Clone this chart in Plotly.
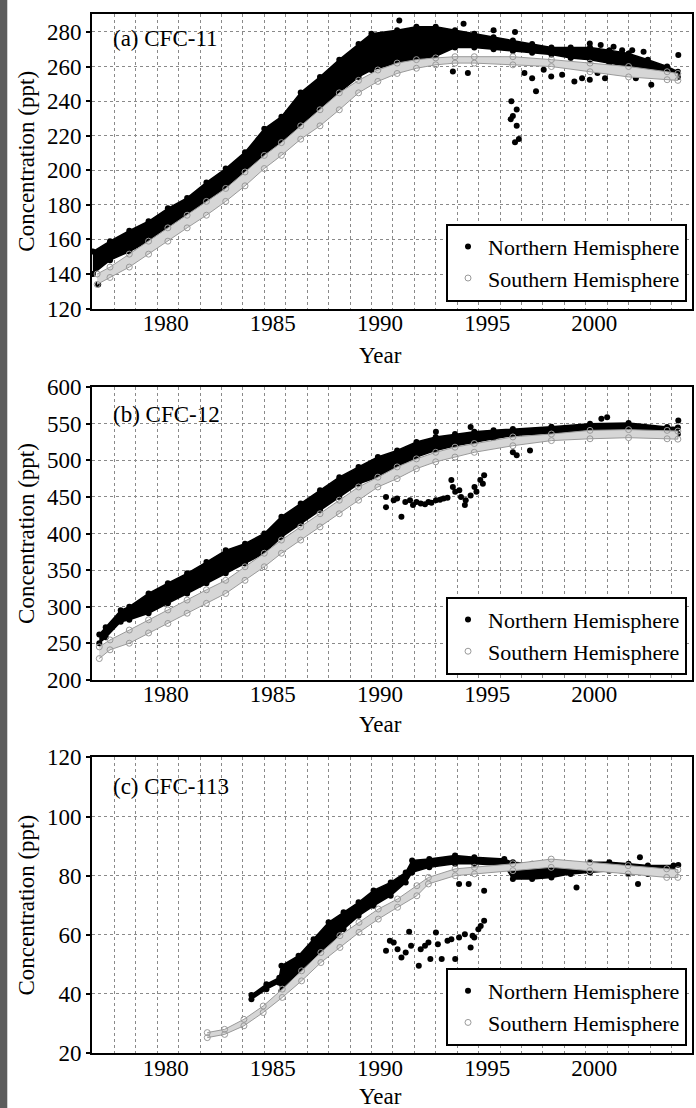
import plotly.graph_objects as go

FONT = "Liberation Serif"

# ---------------- Panel (a) CFC-11 ----------------
a_nh_year = [1976.6, 1977.4, 1978.3, 1979.2, 1980.1, 1981.0, 1981.9, 1982.8, 1983.7, 1984.6,
             1985.4, 1986.3, 1987.2, 1988.1, 1989.0, 1989.6, 1990.8, 1991.7, 1992.6, 1993.5,
             1994.4, 1995.3, 1996.2, 1997.1, 1998.0, 1998.9, 1999.8, 2000.7, 2001.6, 2002.5,
             2003.4, 2003.9]
a_nh_hi = [153, 159, 165, 170.5, 178, 184, 193, 201, 210.5, 224, 231, 245, 254, 264, 273, 279,
           281, 283, 283, 281, 279, 277, 275, 273, 271, 271, 271, 269.5, 267.6, 264, 260, 257]
a_nh_lo = [140, 148, 153, 159, 166, 172, 180, 186, 195, 207, 216, 226, 235, 245, 254, 258,
           262, 264, 266, 271, 271, 270, 269, 268, 267, 265, 264, 262, 260, 258, 255, 254]
a_sh_year = [1976.8, 1977.4, 1978.3, 1979.2, 1980.1, 1981.0, 1981.9, 1982.8, 1983.7, 1984.6,
             1985.4, 1986.3, 1987.2, 1988.1, 1989.0, 1989.9, 1990.8, 1991.7, 1992.6, 1993.5,
             1994.4, 1996.2, 1998.0, 1999.8, 2001.6, 2003.4, 2003.9]
a_sh_hi = [140, 144, 151.5, 159, 166.7, 174, 182, 189.5, 199, 208.6, 216, 225.7, 235, 244.8,
           252, 258, 262, 264, 265, 265.7, 265.7, 265.7, 264, 262, 260, 257, 256]
a_sh_lo = [134, 138, 144, 151.5, 159, 166.7, 174, 182, 191, 201, 208.6, 218, 225.7, 235,
           244.8, 251.4, 256, 259, 261, 262, 262, 261, 260, 257, 254, 252.4, 252]
a_out_year = [1976.85, 1990.9, 1993.9, 1995.3, 1996.3, 1993.4, 1994.1,
              1996.13, 1996.2, 1996.38, 1996.1, 1996.38, 1996.3, 1996.48,
              1996.74, 1997.1, 1997.28, 1997.64, 1997.99, 1999.07, 1999.43, 1999.79, 2000.5,
              2001.94, 2002.66, 1998.5, 2000.15,
              1999.79, 2000.3, 2000.9, 2001.3, 2001.77, 2002.3, 2003.92]
a_out_val = [134, 286.7, 284.8, 281, 280, 257.1, 256.2,
             240, 231.4, 235.2, 229.5, 225.7, 216.2, 218.1,
             256.2, 253.3, 245.7, 258.1, 254.3, 251.4, 253.3, 252.4, 253.3,
             253.3, 249.5, 255.2, 256.2,
             273.3, 272.4, 271.4, 269.5, 269.5, 268.6, 266.7]

# ---------------- Panel (b) CFC-12 ----------------
b_nh_year = [1976.9, 1977.2, 1977.9, 1978.3, 1979.2, 1980.1, 1981.0, 1981.9, 1982.8, 1983.7,
             1984.6, 1985.4, 1986.3, 1987.2, 1988.1, 1989.0, 1989.9, 1990.8, 1991.7, 1992.6,
             1993.5, 1994.4, 1995.3, 1996.2, 1998.0, 1999.8, 2001.6, 2003.4, 2003.9]
b_nh_hi = [262, 272, 295, 300, 318, 332, 345.5, 361, 377, 386, 400, 423, 441, 459, 477, 491,
           504.5, 513.6, 525, 532, 536, 539, 541, 543, 546, 550, 551, 545.5, 545]
b_nh_lo = [250, 258, 279.5, 282, 291, 304.5, 318, 332, 345.5, 359, 373, 395, 414, 432, 450,
           468, 477, 491, 504.5, 513.6, 520, 525, 529.5, 534, 537, 541, 543, 536, 536]
b_sh_year = [1976.9, 1977.4, 1978.3, 1979.2, 1980.1, 1981.0, 1981.9, 1982.8, 1983.7, 1984.6,
             1985.4, 1986.3, 1987.2, 1988.1, 1989.0, 1989.9, 1990.8, 1991.7, 1992.6, 1993.5,
             1994.4, 1996.2, 1998.0, 1999.8, 2001.6, 2003.4, 2003.9]
b_sh_hi = [245, 254.5, 268, 282, 295.5, 309, 323, 336, 354.5, 373, 391, 409, 427, 445.5,
           463.6, 477, 491, 502, 511, 518, 523, 532, 536, 541, 542, 541, 540]
b_sh_lo = [229, 241, 250, 264, 277, 291, 304.5, 318, 336, 354.5, 373, 391, 409, 427, 445.5,
           463.6, 475, 488.6, 498, 504.5, 511, 520, 527, 529.5, 531, 529.5, 529]
b_out_year = [1990.28, 1990.28, 1990.64, 1991.0, 1991.18, 1991.54, 1991.9, 1992.26, 1992.61,
              1992.97, 1993.33, 1993.51, 1993.78, 1993.96, 1994.23, 1994.41, 1994.68, 1994.86,
              1990.8, 1991.4, 1991.7, 1992.1, 1992.4, 1992.8, 1993.15, 1993.4, 1993.7, 1994.0,
              1994.5, 1994.8,
              1996.2, 1996.38, 1997.0, 1992.61, 1994.23, 2000.33, 2000.6, 2003.92]
b_out_val = [450, 436, 445.5, 423, 443, 439, 441, 443, 445.5,
             448, 473, 457, 450, 439, 452, 463.6, 473, 479.5,
             448, 445.5, 443, 440, 442, 446, 449, 463.6, 459, 445.5,
             457, 468,
             511, 507, 513.6, 539, 545.5, 557, 559, 554.5]

# ---------------- Panel (c) CFC-113 ----------------
c_nh_year = [1984.0, 1984.7, 1985.3, 1985.4, 1986.2, 1986.9, 1987.6, 1988.3, 1989.0, 1989.7,
             1990.5, 1991.2, 1991.5, 1992.3, 1993.5, 1994.4, 1995.8, 1996.2, 1997.1, 1998.0,
             1998.9, 1999.8, 2000.7, 2001.6, 2002.5, 2003.7]
c_nh_hi = [39.6, 43.3, 45.5, 49.5, 52.9, 58.5, 64.2, 67.6, 71, 75, 77.7, 81.1, 85.1, 85.6,
           86.8, 86.2, 85.6, 84.5, 84, 84, 84, 84.5, 84.5, 84, 83.4, 83.4]
c_nh_lo = [38.2, 41.6, 43.8, 41.0, 46.1, 50.6, 56.3, 61.9, 66.4, 69.8, 73.2, 77.7, 81.1, 82.8,
           84, 84, 83.4, 78.9, 78.9, 79.4, 80.6, 81.1, 81.7, 80.6, 80.6, 81.7]
c_sh_year = [1981.94, 1982.75, 1983.65, 1984.55, 1985.44, 1986.34, 1987.24, 1988.13, 1989.02,
             1989.92, 1990.82, 1991.72, 1992.26, 1993.51, 1994.41, 1996.2, 1997.99, 1999.79,
             2001.58, 2003.38, 2003.9]
c_sh_hi = [26.9, 28, 31.4, 35.9, 41.6, 47.8, 54, 59.7, 64.2, 68.7, 72.1, 76.6, 79.4, 82.3,
           82.8, 84, 85.6, 84.5, 83.4, 82.3, 82]
c_sh_lo = [25.2, 26.3, 29.2, 33.7, 38.8, 44.4, 50.6, 55.7, 60.8, 65.3, 69.3, 73.2, 77.2, 80,
           80.6, 81.7, 82.8, 81.7, 80.6, 79.4, 79.4]
c_out_year = [1990.28, 1990.64, 1990.82, 1991.0, 1991.36, 1991.45, 1991.81, 1991.9, 1992.26,
              1992.35, 1992.61, 1992.7, 1992.88, 1993.33, 1993.51, 1993.69, 1993.96, 1994.23,
              1994.32, 1994.59, 1994.86, 1990.46, 1991.2, 1992.1, 1993.15, 1994.4, 1994.7,
              1993.69, 1994.14, 1994.86, 1999.17, 2002.04, 2002.13, 2003.92]
c_out_val = [54.6, 57.4, 55.1, 52.3, 61, 56.3, 49.5, 55.1, 57.4,
             51.8, 60.8, 56.8, 51.8, 58.5, 51.8, 59.1, 60.2, 55.7,
             59.7, 61.9, 64.7, 58, 54, 56.3, 58, 59.1, 63,
             77.2, 77.2, 74.9, 76, 77.2, 86.2, 83.6]

panel_labels = ["(a) CFC-11", "(b) CFC-12", "(c) CFC-113"]
series_names = ["Northern Hemisphere", "Southern Hemisphere"]
x_tick_vals = [1980, 1985, 1990, 1995, 2000]
y_ranges = [[120, 290.4], [200, 600], [20, 120]]
y_dticks = [20, 50, 20]

panels = [
    (a_nh_year, a_nh_hi, a_nh_lo, a_sh_year, a_sh_hi, a_sh_lo, a_out_year, a_out_val),
    (b_nh_year, b_nh_hi, b_nh_lo, b_sh_year, b_sh_hi, b_sh_lo, b_out_year, b_out_val),
    (c_nh_year, c_nh_hi, c_nh_lo, c_sh_year, c_sh_hi, c_sh_lo, c_out_year, c_out_val),
]

W, H = 696, 1108
ML, MR, MT, MB = 92, 2, 9, 55
PH = H - MT - MB
PW = W - ML - MR


def py(px):
    return (H - MB - px) / PH


domains = [[py(305), py(9)], [py(678), py(384)], [py(1053), py(756)]]
legend_bottoms = [py(298), py(673), py(1046)]
year_label_y = [352, 723, 1097]
label_y = [34, 411, 785]

fig = go.Figure()
layout = dict(
    width=W, height=H,
    margin=dict(l=ML, r=MR, t=MT, b=MB),
    paper_bgcolor="white", plot_bgcolor="white",
    font=dict(family=FONT, size=23, color="black"),
    showlegend=True,
    annotations=[], shapes=[],
)

NH_COLOR = "black"
SH_FILL = "#d6d6d6"
SH_EDGE = "#9a9a9a"

for i, (nx, nhi, nlo, sx, shi, slo, ox, ov) in enumerate(panels):
    k = "" if i == 0 else str(i + 1)
    xa, ya = "x" + k, "y" + k
    lg = "legend" + k
    # NH band (dense cloud of black points)
    fig.add_trace(go.Scatter(
        x=list(nx) + list(nx)[::-1], y=list(nhi) + list(nlo)[::-1],
        fill="toself", fillcolor=NH_COLOR, mode="lines",
        line=dict(color=NH_COLOR, width=1.5), xaxis=xa, yaxis=ya,
        showlegend=False, hoverinfo="skip"))
    fig.add_trace(go.Scatter(
        x=list(nx) + list(nx), y=list(nhi) + list(nlo), mode="markers",
        marker=dict(symbol="circle", size=6, color=NH_COLOR),
        xaxis=xa, yaxis=ya, showlegend=False))
    # NH scattered points (carry the legend entry)
    fig.add_trace(go.Scatter(
        x=ox, y=ov, mode="markers", name=series_names[0],
        marker=dict(symbol="circle", size=6, color=NH_COLOR),
        xaxis=xa, yaxis=ya, legend=lg, showlegend=True))
    # SH band (open grey circles)
    fig.add_trace(go.Scatter(
        x=list(sx) + list(sx)[::-1], y=list(shi) + list(slo)[::-1],
        fill="toself", fillcolor=SH_FILL, mode="lines",
        line=dict(color=SH_EDGE, width=1), xaxis=xa, yaxis=ya,
        showlegend=False, hoverinfo="skip"))
    fig.add_trace(go.Scatter(
        x=list(sx) + list(sx), y=list(shi) + list(slo), mode="markers",
        name=series_names[1],
        marker=dict(symbol="circle-open", size=6, color=SH_EDGE, line=dict(width=1)),
        xaxis=xa, yaxis=ya, legend=lg, showlegend=True))

    xname = "xaxis" + k
    yname = "yaxis" + k
    layout[xname] = dict(
        domain=[0, 1], anchor=ya, range=[1976.56, 2004.56],
        tickmode="array", tickvals=x_tick_vals, ticks="", showgrid=False,
        showline=True, mirror=True, linecolor="black", linewidth=2,
        tickfont=dict(size=23), zeroline=False,
        minor=dict(tick0=1977.6, dtick=1, showgrid=True, gridcolor="#8a8a8a",
                   griddash="dot", gridwidth=1, ticks=""),
    )
    layout[yname] = dict(
        domain=domains[i], anchor=xa, range=y_ranges[i], dtick=y_dticks[i],
        tick0=y_ranges[i][0],
        ticks="outside", ticklen=4, tickwidth=1.5, tickcolor="black",
        showgrid=True, gridcolor="#8a8a8a", griddash="dot", gridwidth=1,
        showline=True, mirror=True, linecolor="black", linewidth=2,
        zeroline=False, tickfont=dict(size=23),
        title=dict(text="Concentration (ppt)", font=dict(size=23), standoff=6),
    )
    layout[lg] = dict(
        x=(689 - ML) / PW, y=legend_bottoms[i], xanchor="right", yanchor="bottom",
        bgcolor="white", bordercolor="black", borderwidth=2,
        font=dict(family=FONT, size=22, color="black"),
        tracegroupgap=0, itemsizing="trace", itemwidth=30,
    )
    layout["annotations"].append(dict(
        text=panel_labels[i], xref=xa + " domain", yref="paper",
        x=(111 - ML) / PW, y=py(label_y[i]), xanchor="left", yanchor="middle",
        showarrow=False, font=dict(size=23)))
    layout["annotations"].append(dict(
        text="Year", xref=xa, yref="paper",
        x=1990, y=py(year_label_y[i]), xanchor="center", yanchor="middle",
        showarrow=False, font=dict(size=23)))

# dark strip at the left edge of the page
layout["shapes"].append(dict(
    type="rect", xref="paper", yref="paper",
    x0=(0 - ML) / PW - 0.01, x1=(7 - ML) / PW, y0=-MB / PH - 0.01, y1=1 + MT / PH + 0.01,
    fillcolor="#5c5c5c", line=dict(width=0), layer="above"))

fig.update_layout(**layout)
try:
    fig.update_xaxes(ticklabelstandoff=-7)
except Exception:
    pass

fig.write_html(
    "out.html",
    config={"displayModeBar": False},
    post_script="document.body.style.margin='0';document.body.style.padding='0';"
                "document.body.style.overflow='hidden';",
)
